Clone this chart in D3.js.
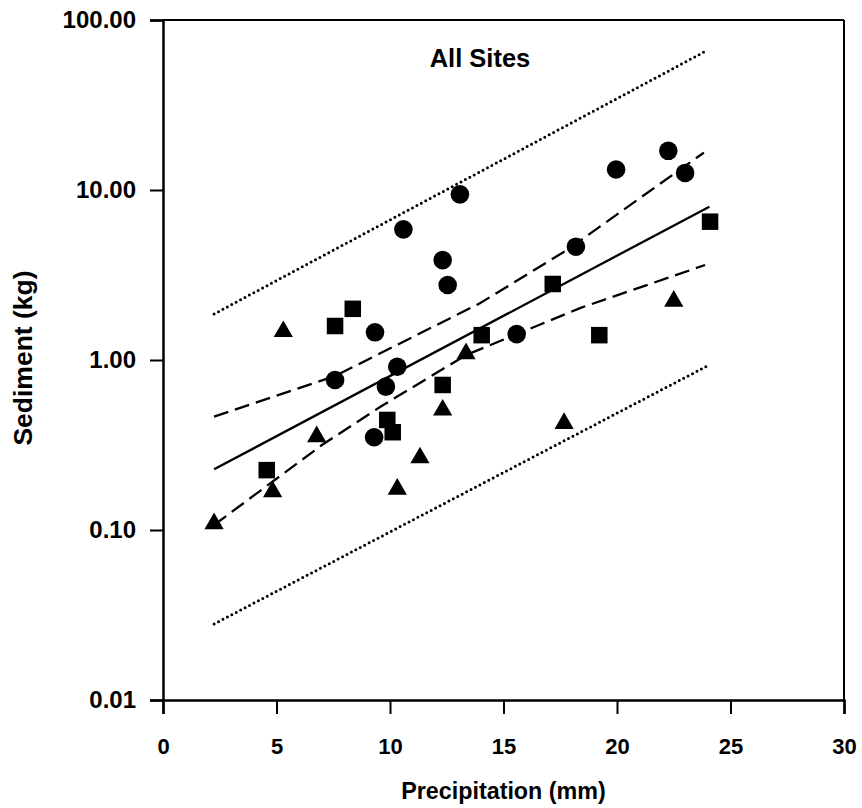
<!DOCTYPE html>
<html>
<head>
<meta charset="utf-8">
<script src="https://cdn.jsdelivr.net/npm/d3@7"></script>
<style>
  body { margin: 0; background: #fff; }
  text { font-family: Arial, "Liberation Sans", sans-serif; font-weight: bold; fill: #000; }
</style>
</head>
<body>
<svg id="chart" width="862" height="808"></svg>
<script>
// circles
const circleX = [7.58, 9.34, 9.30, 9.82, 10.32, 10.59, 12.32, 12.54, 13.08, 15.58, 18.19, 19.96, 22.26, 23.0];
const circleY = [0.763, 1.455, 0.351, 0.697, 0.913, 5.87, 3.87, 2.76, 9.43, 1.42, 4.64, 13.2, 17.0, 12.6];
// squares
const squareX = [4.57, 7.58, 8.36, 9.88, 10.12, 12.32, 14.04, 17.17, 19.22, 24.1];
const squareY = [0.225, 1.585, 2.0, 0.444, 0.376, 0.713, 1.40, 2.80, 1.40, 6.51];
// triangles
const triX = [2.25, 4.83, 5.30, 6.77, 10.32, 11.32, 12.32, 13.35, 17.67, 22.5];
const triY = [0.109, 0.168, 1.47, 0.354, 0.174, 0.266, 0.508, 1.09, 0.424, 2.22];

// regression line + bands
const regX = [2.25, 24.07];
const regY = [0.2275, 7.98];
const confUpX = [2.25, 7.58, 13.96, 17.8, 23.83];
const confUpY = [0.464, 0.805, 2.156, 4.44, 16.6];
const confLoX = [2.25, 7.0, 9.56, 13.35, 18.37, 23.88];
const confLoY = [0.107, 0.316, 0.529, 1.07, 2.02, 3.62];
const predUpX = [2.25, 24.0];
const predUpY = [1.865, 66.6];
const predLoX = [2.25, 23.97];
const predLoY = [0.028, 0.922];

const xTicks = [0, 5, 10, 15, 20, 25, 30];
const yTicks = [0.01, 0.1, 1, 10, 100];

const margin = { top: 20, right: 18, bottom: 108, left: 163 };
const width = 862 - margin.left - margin.right;
const height = 808 - margin.top - margin.bottom;

const svg = d3.select("#chart");
const g = svg.append("g").attr("transform", `translate(${margin.left},${margin.top})`);

const x = d3.scaleLinear().domain([0, 30]).range([0, width]);
const y = d3.scaleLog().domain([0.01, 100]).range([height, 0]);

// frame (top + right)
g.append("line").attr("x1", 0).attr("x2", width).attr("y1", 0).attr("y2", 0)
    .attr("stroke", "#000").attr("stroke-width", 2);
g.append("line").attr("x1", width).attr("x2", width).attr("y1", 0).attr("y2", height)
    .attr("stroke", "#000").attr("stroke-width", 2);

// axes
const xAxis = g.append("g")
    .attr("transform", `translate(0,${height})`)
    .call(d3.axisBottom(x).tickValues(xTicks).tickSize(14).tickPadding(24).tickFormat(d3.format("d")));
const yAxis = g.append("g")
    .call(d3.axisLeft(y).tickValues(yTicks).tickSize(13).tickPadding(14).tickFormat(d3.format(".2f")));

[xAxis, yAxis].forEach(a => {
    a.select(".domain").attr("stroke-width", 2.5);
    a.selectAll(".tick line").attr("stroke-width", 2);
    a.selectAll("text").attr("font-family", "Arial, 'Liberation Sans', sans-serif").attr("font-weight", "bold");
});
xAxis.selectAll("text").attr("font-size", 22);
yAxis.selectAll("text").attr("font-size", 24);

// lines
const line = d3.line().x(d => x(d[0])).y(d => y(d[1]));
function drawLine(xs, ys, dash, w) {
    g.append("path")
        .datum(xs.map((v, i) => [v, ys[i]]))
        .attr("d", line)
        .attr("fill", "none")
        .attr("stroke", "#000")
        .attr("stroke-width", w)
        .attr("stroke-linecap", dash === "0,5" ? "round" : "butt")
        .attr("stroke-dasharray", dash);
}
drawLine(predUpX, predUpY, "0,5", 3);
drawLine(predLoX, predLoY, "0,5", 3);
drawLine(confUpX, confUpY, "15,7", 2.3);
drawLine(confLoX, confLoY, "15,7", 2.3);
drawLine(regX, regY, null, 2.3);

// markers
g.selectAll(".circ")
    .data(circleX.map((v, i) => [v, circleY[i]]))
    .enter().append("circle")
    .attr("class", "circ")
    .attr("cx", d => x(d[0]))
    .attr("cy", d => y(d[1]))
    .attr("r", 9.3)
    .attr("fill", "#000");

const sq = 16.5;
g.selectAll(".sq")
    .data(squareX.map((v, i) => [v, squareY[i]]))
    .enter().append("rect")
    .attr("class", "sq")
    .attr("x", d => x(d[0]) - sq / 2)
    .attr("y", d => y(d[1]) - sq / 2)
    .attr("width", sq)
    .attr("height", sq)
    .attr("fill", "#000");

g.selectAll(".tri")
    .data(triX.map((v, i) => [v, triY[i]]))
    .enter().append("path")
    .attr("class", "tri")
    .attr("d", d3.symbol().type(d3.symbolTriangle).size(160))
    .attr("transform", d => `translate(${x(d[0])},${y(d[1])})`)
    .attr("fill", "#000");

// title and labels
g.append("text")
    .attr("x", 317)
    .attr("y", 47)
    .attr("text-anchor", "middle")
    .attr("font-size", 25.5)
    .text("All Sites");

svg.append("text")
    .attr("x", margin.left + width / 2)
    .attr("y", 799)
    .attr("text-anchor", "middle")
    .attr("font-size", 23.3)
    .text("Precipitation (mm)");

svg.append("text")
    .attr("transform", "translate(32,358) rotate(-90)")
    .attr("text-anchor", "middle")
    .attr("font-size", 26.5)
    .text("Sediment (kg)");
</script>
</body>
</html>
